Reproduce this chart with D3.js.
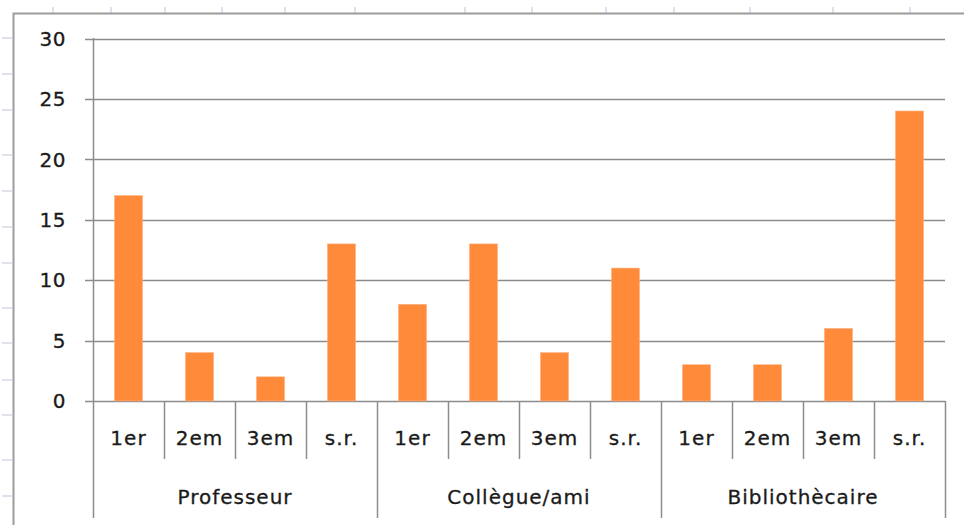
<!DOCTYPE html>
<html><head><meta charset="utf-8">
<script src="https://cdn.jsdelivr.net/npm/d3@7"></script>
<style>
html,body{margin:0;padding:0;background:#fff;}
svg{display:block;}
text{font-family:"DejaVu Sans",Verdana,sans-serif;fill:#1a1a1a;stroke:#1a1a1a;stroke-width:0.3px;}
</style></head><body>
<script>
const groups = ["Professeur", "Collègue/ami", "Bibliothècaire"];
const subs = ["1er", "2em", "3em", "s.r."];
const values = [
  [17, 4, 2, 13],
  [8, 13, 4, 11],
  [3, 3, 6, 24]
];
const yTicks = [0, 5, 10, 15, 20, 25, 30];
const sheetColTicks = [53, 111, 165, 222, 285, 355, 465, 532, 606, 674, 750, 833, 910];
const sheetRowTicks = [38, 74, 110, 155, 191, 227, 263, 308, 343, 380, 415, 460, 496];

const W = 964, H = 525;
const svg = d3.select("body").append("svg").attr("width", W).attr("height", H);

// spreadsheet background marks
svg.selectAll(".ct").data(sheetColTicks).enter().append("line")
  .attr("x1", d => d).attr("x2", d => d).attr("y1", 7).attr("y2", 13)
  .attr("stroke", "#c9cfe2").attr("stroke-width", 1.2);
svg.selectAll(".rt").data(sheetRowTicks).enter().append("line")
  .attr("x1", 2).attr("x2", 12).attr("y1", d => d).attr("y2", d => d)
  .attr("stroke", "#c9cfe2").attr("stroke-width", 1.2);
svg.append("path").attr("d", `M13.5,${H} L13.5,13.5 L${W},13.5`)
  .attr("fill", "none").attr("stroke", "#9c9c9c").attr("stroke-width", 2);

const flat = [];
groups.forEach((g, gi) => subs.forEach((s, si) => flat.push({g, s, key: gi + "-" + si, v: values[gi][si]})));

const x = d3.scaleBand().domain(flat.map(d => d.key)).range([93, 945]).paddingInner(0).paddingOuter(0);
const y = d3.scaleLinear().domain([0, 30]).range([401, 38.5]);
const gridColor = "#8c8c8c";

// gridlines
svg.selectAll(".grid").data(yTicks).enter().append("line")
  .attr("x1", 85).attr("x2", 945)
  .attr("y1", d => Math.round(y(d)) + 0.5).attr("y2", d => Math.round(y(d)) + 0.5)
  .attr("stroke", gridColor).attr("stroke-width", 1.5);

// y labels
svg.selectAll(".yl").data(yTicks).enter().append("text")
  .attr("x", 66).attr("y", d => y(d)).attr("dy", "0.36em")
  .attr("text-anchor", "end").style("font-size", "20px").style("letter-spacing", "0.5px")
  .text(d => d);

// bars
const bw = 28;
svg.selectAll(".bar").data(flat).enter().append("rect")
  .attr("x", d => x(d.key) + x.bandwidth() / 2 - bw / 2)
  .attr("width", bw)
  .attr("y", d => y(d.v))
  .attr("height", d => y(0) - y(d.v))
  .attr("fill", "#ff8a3a").attr("stroke", "#ffb080").attr("stroke-width", 0.6);

// y axis line
svg.append("line").attr("x1", 93.5).attr("x2", 93.5).attr("y1", 38).attr("y2", 518)
  .attr("stroke", gridColor).attr("stroke-width", 1.5);

// category dividers
const bounds = d3.range(1, flat.length + 1);
svg.selectAll(".div").data(bounds).enter().append("line")
  .attr("x1", i => Math.round(93 + i * x.bandwidth()) + 0.5)
  .attr("x2", i => Math.round(93 + i * x.bandwidth()) + 0.5)
  .attr("y1", 401)
  .attr("y2", i => (i % subs.length === 0) ? 518 : 459)
  .attr("stroke", gridColor).attr("stroke-width", 1.5);

// sub labels
svg.selectAll(".sl").data(flat).enter().append("text")
  .attr("x", d => x(d.key) + x.bandwidth() / 2).attr("y", 438).attr("dy", "0.36em")
  .attr("text-anchor", "middle").style("font-size", "20px").style("letter-spacing", "1px")
  .text(d => d.s);

// group labels
svg.selectAll(".gl").data(groups).enter().append("text")
  .attr("x", (g, gi) => 93 + (gi * subs.length + subs.length / 2) * x.bandwidth())
  .attr("y", 497).attr("dy", "0.36em")
  .attr("text-anchor", "middle").style("font-size", "20px").style("letter-spacing", "1px")
  .text(d => d);
</script>
</body></html>
